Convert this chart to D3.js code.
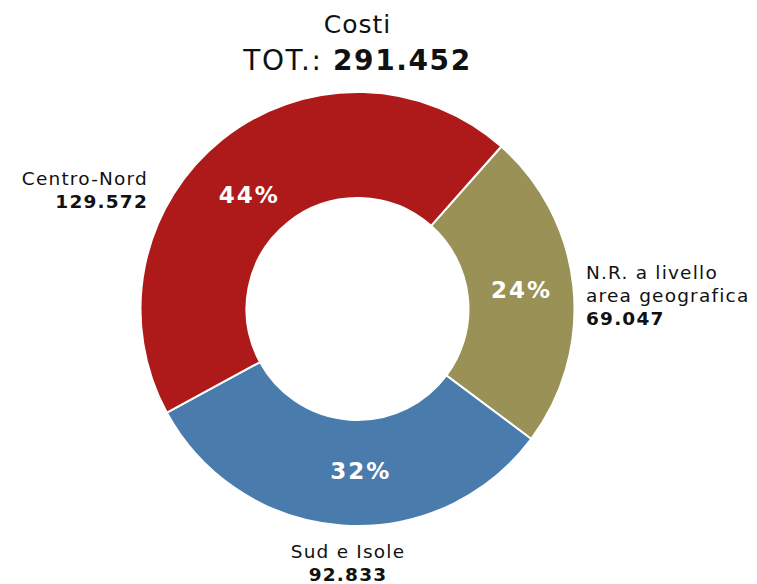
<!DOCTYPE html>
<html lang="it">
<head>
<meta charset="utf-8" />
<style>
    body {margin:0; background:#fff;}
    text {font-family: "DejaVu Sans", sans-serif; fill: #111;}
</style>
<script src="https://cdn.jsdelivr.net/npm/d3@7"></script>
</head>
<body>
<svg></svg>
<script>
    var width = 757,
        height = 584;

    // data, in drawing order (clockwise from the top right)
    var categories = ["N.R. a livello area geografica", "Sud e Isole", "Centro-Nord"];
    var values = [69047, 92833, 129572];
    var colors = ["#9A9156", "#4A7BAD", "#AE1A1A"];
    var labelLines = [["N.R. a livello", "area geografica"], ["Sud e Isole"], ["Centro-Nord"]];
    var valueLabels = ["69.047", "92.833", "129.572"];
    var title = "Costi";
    var totalLabel = "291.452";

    var cx = 357.5, cy = 309, outerR = 217, innerR = 111;
    var total = d3.sum(values);

    var svg = d3.select("svg").attr("width", width).attr("height", height);

    svg.append("text")
        .attr("x", cx).attr("y", 33)
        .attr("text-anchor", "middle")
        .style("font-size", "25px")
        .style("letter-spacing", "1px")
        .text(title);

    var tot = svg.append("text")
        .attr("x", cx).attr("y", 70)
        .attr("text-anchor", "middle")
        .style("font-size", "28px")
        .style("letter-spacing", "1.6px");
    tot.append("tspan").text("TOT.: ");
    tot.append("tspan").style("font-weight", "bold").text(totalLabel);

    var start = 41.5 * Math.PI / 180;
    var pie = d3.pie().sort(null).startAngle(start).endAngle(start + 2 * Math.PI);
    var arcs = pie(values);

    var arc = d3.arc().innerRadius(innerR).outerRadius(outerR);
    var mid = d3.arc().innerRadius(164).outerRadius(164);
    // small nudges of the % labels off the centroid, as in the original
    var nudge = [[1, -2], [15, -2], [-6, 14]];

    var g = svg.append("g").attr("transform", "translate(" + cx + "," + cy + ")");

    g.selectAll("path")
        .data(arcs)
      .enter().append("path")
        .attr("d", arc)
        .attr("fill", function(d, i) {return colors[i]})
        .attr("stroke", "#fff")
        .attr("stroke-width", 2);

    g.selectAll("text.pct")
        .data(arcs)
      .enter().append("text")
        .attr("class", "pct")
        .attr("x", function(d, i) {return mid.centroid(d)[0] + nudge[i][0]})
        .attr("y", function(d, i) {return mid.centroid(d)[1] + nudge[i][1] + 8})
        .attr("text-anchor", "middle")
        .style("font-size", "23px")
        .style("font-weight", "bold")
        .style("letter-spacing", "2px")
        .style("fill", "#fff")
        .text(function(d) {return Math.round(d.data / total * 100) + "%"});

    // outer labels
    var labelPos = [
        {x: 586, y: 279, anchor: "start"},
        {x: 348, y: 558, anchor: "middle"},
        {x: 148, y: 185, anchor: "end"}
    ];

    labelPos.forEach(function(p, i) {
        var t = svg.append("text")
            .attr("x", p.x).attr("y", p.y)
            .attr("text-anchor", p.anchor)
            .style("font-size", "18.5px")
            .style("letter-spacing", "1.2px");
        labelLines[i].forEach(function(line, j) {
            t.append("tspan").attr("x", p.x).attr("dy", j == 0 ? 0 : 23).text(line);
        });
        t.append("tspan").attr("x", p.x).attr("dy", 23)
            .style("font-weight", "bold").text(valueLabels[i]);
    });
</script>
</body>
</html>
